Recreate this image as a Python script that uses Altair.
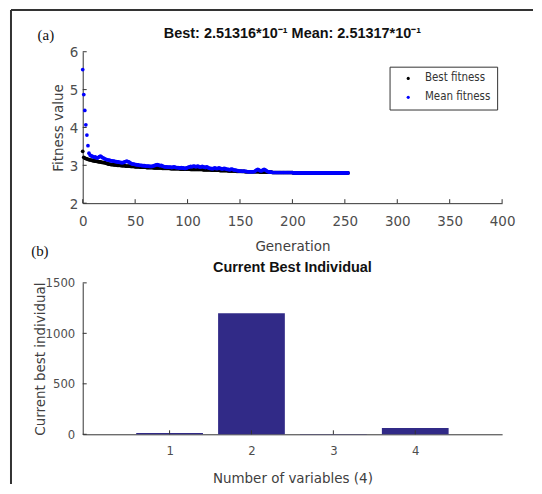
import altair as alt
import pandas as pd

# ---------------- data ----------------
generations = list(range(254))

best_fitness = [
    3.37,
    3.21, 3.19, 3.18, 3.17, 3.16, 3.15, 3.14, 3.14,
    3.13, 3.12, 3.12, 3.11, 3.11, 3.10, 3.10, 3.09, 3.09, 3.08, 3.08, 3.07, 3.07, 3.06, 3.05, 3.04, 3.03,
    3.03, 3.02, 3.02, 3.02, 3.01, 3.01, 3.01, 3.00, 3.00, 3.00, 3.00, 2.99, 2.99, 2.99, 2.99, 2.98, 2.98,
    2.98, 2.98, 2.98, 2.97, 2.97, 2.97, 2.97, 2.96, 2.96, 2.96, 2.96, 2.96, 2.95, 2.95, 2.95, 2.95,
    2.95, 2.95, 2.94, 2.94, 2.94, 2.94, 2.94, 2.94, 2.94, 2.93, 2.93, 2.93, 2.93, 2.93, 2.93, 2.93, 2.93,
    2.92, 2.92, 2.92, 2.92, 2.92, 2.92, 2.92, 2.92, 2.91, 2.91, 2.91, 2.91, 2.91, 2.91, 2.91, 2.91, 2.91,
    2.90, 2.90, 2.90, 2.90, 2.90, 2.90, 2.90, 2.90, 2.90, 2.90, 2.89, 2.89, 2.89, 2.89, 2.89, 2.89, 2.89,
    2.89, 2.89, 2.89, 2.89, 2.89, 2.88, 2.88, 2.88, 2.88, 2.88, 2.88, 2.88, 2.88,
    2.87, 2.87, 2.87, 2.87, 2.87, 2.87, 2.87, 2.87, 2.86, 2.86, 2.86, 2.86, 2.86, 2.86, 2.86, 2.86,
    2.85, 2.85, 2.85, 2.85, 2.85, 2.85, 2.85, 2.85, 2.84, 2.84, 2.84, 2.84, 2.84, 2.84, 2.84, 2.84,
    2.83, 2.83, 2.83, 2.83, 2.83, 2.83,
    2.83, 2.83, 2.83, 2.83, 2.83, 2.83, 2.83, 2.83,
    2.82, 2.82, 2.82, 2.82, 2.82, 2.82, 2.82, 2.82, 2.82, 2.82, 2.82, 2.82,
    2.81, 2.81, 2.81, 2.81, 2.81, 2.81, 2.81, 2.81, 2.81, 2.81, 2.81, 2.81, 2.81, 2.81, 2.81, 2.81,
    2.81, 2.81, 2.81, 2.81,
    2.80, 2.80, 2.80, 2.80, 2.80, 2.80, 2.80, 2.80, 2.80, 2.80, 2.80, 2.80, 2.80, 2.80, 2.80, 2.80,
    2.80, 2.80, 2.80, 2.80, 2.80, 2.80, 2.80, 2.80, 2.80, 2.80, 2.80, 2.80, 2.80, 2.80, 2.80, 2.80,
    2.80, 2.80, 2.80, 2.80, 2.80, 2.80, 2.80, 2.80, 2.80, 2.80, 2.80, 2.80, 2.80, 2.80, 2.80, 2.80,
    2.80, 2.80, 2.80, 2.80, 2.80,
]

mean_fitness = [
    5.53, 4.87, 4.45, 4.07, 3.80, 3.52, 3.32,
    3.27, 3.25, 3.24, 3.22, 3.21, 3.22, 3.20, 3.19, 3.21,
    3.23, 3.24, 3.22, 3.20, 3.19, 3.17, 3.16,
    3.15, 3.14, 3.14, 3.13, 3.12, 3.12, 3.11, 3.11, 3.10, 3.10, 3.09, 3.09, 3.08,
    3.08, 3.07, 3.07, 3.08, 3.09, 3.10, 3.11, 3.10, 3.09, 3.07, 3.05, 3.04, 3.03, 3.03, 3.02,
    3.02, 3.01, 3.01, 3.00, 3.00, 3.00, 2.99, 2.99, 2.99, 2.98, 2.98, 2.98, 2.98, 2.97, 2.97, 2.97,
    2.98, 2.99, 3.00,
    3.01, 3.02, 3.01, 3.00, 2.99, 3.00, 2.98, 2.97, 2.96, 2.96,
    2.96, 2.95, 2.95, 2.95, 2.95, 2.94, 2.95, 2.96, 2.95, 2.94,
    2.94, 2.94, 2.93, 2.93, 2.94, 2.93, 2.93, 2.92, 2.92, 2.93,
    2.94, 2.95, 2.96, 2.97, 2.96, 2.97, 2.98, 2.97, 2.96, 2.97,
    2.98, 2.96, 2.95, 2.96, 2.97, 2.96, 2.95, 2.94, 2.96, 2.95,
    2.93, 2.92, 2.92, 2.91, 2.91, 2.92, 2.93, 2.92, 2.91, 2.92,
    2.93, 2.92, 2.91, 2.90, 2.91, 2.92, 2.91, 2.90, 2.89, 2.89,
    2.88, 2.89, 2.90, 2.89, 2.88, 2.87, 2.87, 2.86, 2.86, 2.85,
    2.85, 2.85, 2.84, 2.84, 2.85, 2.84, 2.84, 2.83, 2.83, 2.83,
    2.83, 2.83, 2.83, 2.83, 2.84, 2.86, 2.88, 2.89, 2.88, 2.86,
    2.85, 2.86, 2.88, 2.89, 2.88, 2.86, 2.84, 2.83, 2.82, 2.82,
    2.82, 2.81, 2.81, 2.81,
    2.81, 2.81, 2.81, 2.81, 2.81, 2.81, 2.81, 2.81, 2.81, 2.81, 2.81, 2.81, 2.81, 2.81, 2.81, 2.81,
    2.81,
    2.80, 2.80, 2.80, 2.80, 2.80, 2.80, 2.80, 2.80, 2.80, 2.80, 2.80, 2.80, 2.80, 2.80, 2.80, 2.80,
    2.80, 2.80, 2.80, 2.80, 2.80, 2.80, 2.80, 2.80, 2.80, 2.80, 2.80, 2.80, 2.80, 2.80, 2.80, 2.80,
    2.80, 2.80, 2.80, 2.80, 2.80, 2.80, 2.80, 2.80, 2.80, 2.80, 2.80, 2.80, 2.80, 2.80, 2.80, 2.80,
    2.80, 2.80, 2.80, 2.80, 2.80,
]

series_names = ["Best fitness", "Mean fitness"]
series_colors = ["#000000", "#0000ff"]

variables = [1, 2, 3, 4]
best_individual = [12, 1198, 2, 62]

x_ticks_a = [0, 50, 100, 150, 200, 250, 300, 350, 400]
y_ticks_a = [2, 3, 4, 5, 6]
x_ticks_b = [1, 2, 3, 4]
y_ticks_b = [0, 500, 1000, 1500]

panel_labels = ["(a)", "(b)"]
titles = ["Best: 2.51316*10\u207b\u00b9 Mean: 2.51317*10\u207b\u00b9", "Current Best Individual"]

# ---------------- styling ----------------
W, H = 421, 152
NARROW = "Liberation Sans Narrow, Arial Narrow, DejaVu Sans Condensed, Liberation Sans, sans-serif"
SANS = "Liberation Sans, Arial, sans-serif"
AX = "#333333"
LBL = "#4d4d4d"

fit_df = pd.DataFrame({
    "gen": generations[:len(best_fitness)] + generations[:len(mean_fitness)],
    "val": best_fitness + mean_fitness,
    "series": [series_names[0]] * len(best_fitness) + [series_names[1]] * len(mean_fitness),
})


def axis_common(**kw):
    base = dict(tickSize=0, grid=False, labelFlush=False, labelOverlap=False,
                labelFont=NARROW, labelColor=LBL, domainColor=AX, domainWidth=1,
                titleFont=NARROW, titleFontWeight="normal", titleColor="#404040",
                titleFontSize=15, titleBaseline="middle", format="d")
    base.update(kw)
    return alt.Axis(**base)


def text_layer(txt, x, y, **style):
    return alt.Chart(pd.DataFrame({"t": [txt]})).mark_text(**style).encode(
        text="t:N", x=alt.value(x), y=alt.value(y))


# ---------------- top panel ----------------
xs_a = alt.Scale(domain=[0, 400], nice=False, zero=False)
ys_a = alt.Scale(domain=[2, 6], nice=False, zero=False)
xax_a = axis_common(values=x_ticks_a, title="Generation", labelFontSize=15,
                    labelPadding=10, titleY=43)
yax_a = axis_common(values=y_ticks_a, title="Fitness value", labelFontSize=15,
                    labelPadding=5, titleX=-25)

points = alt.Chart(fit_df).mark_circle(size=14, opacity=1).encode(
    x=alt.X("gen:Q", scale=xs_a, axis=xax_a),
    y=alt.Y("val:Q", scale=ys_a, axis=yax_a),
    color=alt.Color("series:N",
                    scale=alt.Scale(domain=series_names, range=series_colors),
                    legend=alt.Legend(title=None, orient="none", legendX=308, legendY=15,
                                      strokeColor="#333333", fillColor="white", padding=6,
                                      symbolType="circle", symbolSize=10, symbolOffset=7,
                                      labelOffset=11, labelFont=NARROW, labelFontSize=11.5,
                                      labelColor="#333333", rowPadding=6)),
)

xt_a = alt.Chart(pd.DataFrame({"t": x_ticks_a})).mark_rule(color=AX, strokeWidth=1).encode(
    x=alt.X("t:Q", scale=xs_a, axis=xax_a), y=alt.value(H), y2=alt.value(H - 4))
yt_a = alt.Chart(pd.DataFrame({"t": y_ticks_a})).mark_rule(color=AX, strokeWidth=1).encode(
    y=alt.Y("t:Q", scale=ys_a, axis=yax_a), x=alt.value(0), x2=alt.value(4))

frame_top = alt.Chart(pd.DataFrame({"t": [0]})).mark_rule(color="#333333", strokeWidth=2).encode(
    x=alt.value(-72), x2=alt.value(452), y=alt.value(-42))
frame_left = alt.Chart(pd.DataFrame({"t": [0]})).mark_rule(color="#333333", strokeWidth=2).encode(
    x=alt.value(-72), y=alt.value(-42), y2=alt.value(434))

lab_a = text_layer(panel_labels[0], -37, -17, font="Liberation Serif", fontSize=15,
                   color="#111111", align="center", baseline="middle")
ttl_a = text_layer(titles[0], W / 2, -18, font=SANS, fontSize=14.5, fontWeight="bold",
                   color="#111111", align="center", baseline="middle")

top = alt.layer(frame_top, frame_left, points, xt_a, yt_a, lab_a, ttl_a).properties(
    width=W, height=H)

# ---------------- bottom panel ----------------
bar_df = pd.DataFrame({"var": variables, "value": best_individual})
xs_b = alt.Scale(domain=[0, 5], nice=False, zero=False)
ys_b = alt.Scale(domain=[0, 1500], nice=False)
xax_b = axis_common(values=x_ticks_b, title="Number of variables (4)", labelFontSize=13,
                    labelPadding=10, titleY=43)
yax_b = axis_common(values=y_ticks_b, title="Current best individual", labelFontSize=13,
                    labelPadding=8, titleX=-43)

bars = alt.Chart(bar_df).mark_bar(size=67, color="#312A87").encode(
    x=alt.X("var:Q", scale=xs_b, axis=xax_b),
    y=alt.Y("value:Q", scale=ys_b, axis=yax_b),
)
xt_b = alt.Chart(pd.DataFrame({"t": x_ticks_b})).mark_rule(color=AX, strokeWidth=1).encode(
    x=alt.X("t:Q", scale=xs_b, axis=xax_b), y=alt.value(H), y2=alt.value(H - 4))
yt_b = alt.Chart(pd.DataFrame({"t": y_ticks_b})).mark_rule(color=AX, strokeWidth=1).encode(
    y=alt.Y("t:Q", scale=ys_b, axis=yax_b), x=alt.value(0), x2=alt.value(4))

lab_b = text_layer(panel_labels[1], -43, -32, font="Liberation Serif", fontSize=15,
                   color="#111111", align="center", baseline="middle")
ttl_b = text_layer(titles[1], W / 2, -15, font=SANS, fontSize=14.5, fontWeight="bold",
                   color="#111111", align="center", baseline="middle")

bottom = alt.layer(bars, xt_b, yt_b, lab_b, ttl_b).properties(width=W, height=H)

chart = alt.vconcat(top, bottom, spacing=80, bounds="flush").properties(
    padding={"left": 2, "top": 0, "right": 0, "bottom": 0},
    background="white",
).configure_view(stroke=None)

chart.save("out.html", embed_options={"renderer": "svg", "actions": False})
